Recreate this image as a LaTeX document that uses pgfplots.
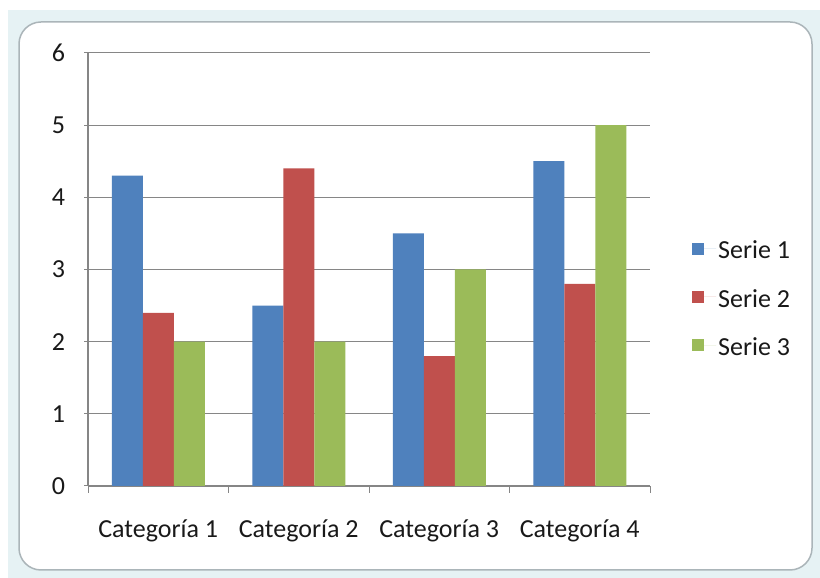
\documentclass[border=0pt]{standalone}
\usepackage{pgfplots}
\pgfplotsset{compat=1.18}
\usepackage{fontspec}
\setmainfont{Carlito}
\definecolor{sA}{HTML}{4F81BD}
\definecolor{sB}{HTML}{C0504D}
\definecolor{sC}{HTML}{9BBB59}
\definecolor{gridc}{HTML}{868686}
\definecolor{band}{HTML}{E6F2F4}
\definecolor{inborder}{HTML}{ABB5B9}
\begin{document}
\begin{tikzpicture}[x=1pt,y=1pt]
\path[use as bounding box] (0,0) rectangle (820,578);
\fill[band] (8,0) rectangle (820,568);
\draw[inborder, line width=1.5pt, fill=white, rounded corners=22pt] (19,8) rectangle (812,556);
\begin{axis}[
  at={(88pt,92pt)}, anchor=south west,
  scale only axis, width=562pt, height=433pt,
  ymin=0, ymax=6, ytick={0,...,6},
  xmin=-0.5, xmax=3.5,
  xtick={0,1,2,3},
  xticklabels={Categoría 1,Categoría 2,Categoría 3,Categoría 4},
  minor xtick={-0.5,0.5,1.5,2.5,3.5},
  xtick style={draw=none},
  minor x tick style={draw=gridc, line width=1pt},
  minor tick length=7pt,
  major tick length=7pt,
  ytick style={draw=gridc, line width=1pt},
  tick align=outside,
  axis lines=left,
  axis line style={-, draw=gridc, line width=1.2pt},
  ymajorgrids, grid style={draw=gridc, line width=1pt},
  tick label style={font=\fontsize{26}{30}\selectfont, text=black!90},
  yticklabel style={xshift=-16pt},
  xticklabel style={yshift=-23pt},
  /pgf/number format/assume math mode=true,
  ybar=0pt, bar width=31pt,
  legend style={at={(1,0.432)}, anchor=west, xshift=39pt, draw=none, fill=none,
    font=\fontsize{26}{30}\selectfont, row sep=25pt, text=black!90},
  legend cell align=left,
  legend image code/.code={\path (0pt,2pt) -- (24pt,2pt); \fill[#1] (0pt,-4pt) rectangle (12pt,8pt);},
]
\addplot[fill=sA, draw=none] coordinates {(0,4.3) (1,2.5) (2,3.5) (3,4.5)};
\addplot[fill=sB, draw=none] coordinates {(0,2.4) (1,4.4) (2,1.8) (3,2.8)};
\addplot[fill=sC, draw=none] coordinates {(0,2) (1,2) (2,3) (3,5)};
\legend{Serie 1,Serie 2,Serie 3}
\end{axis}
\end{tikzpicture}
\end{document}
